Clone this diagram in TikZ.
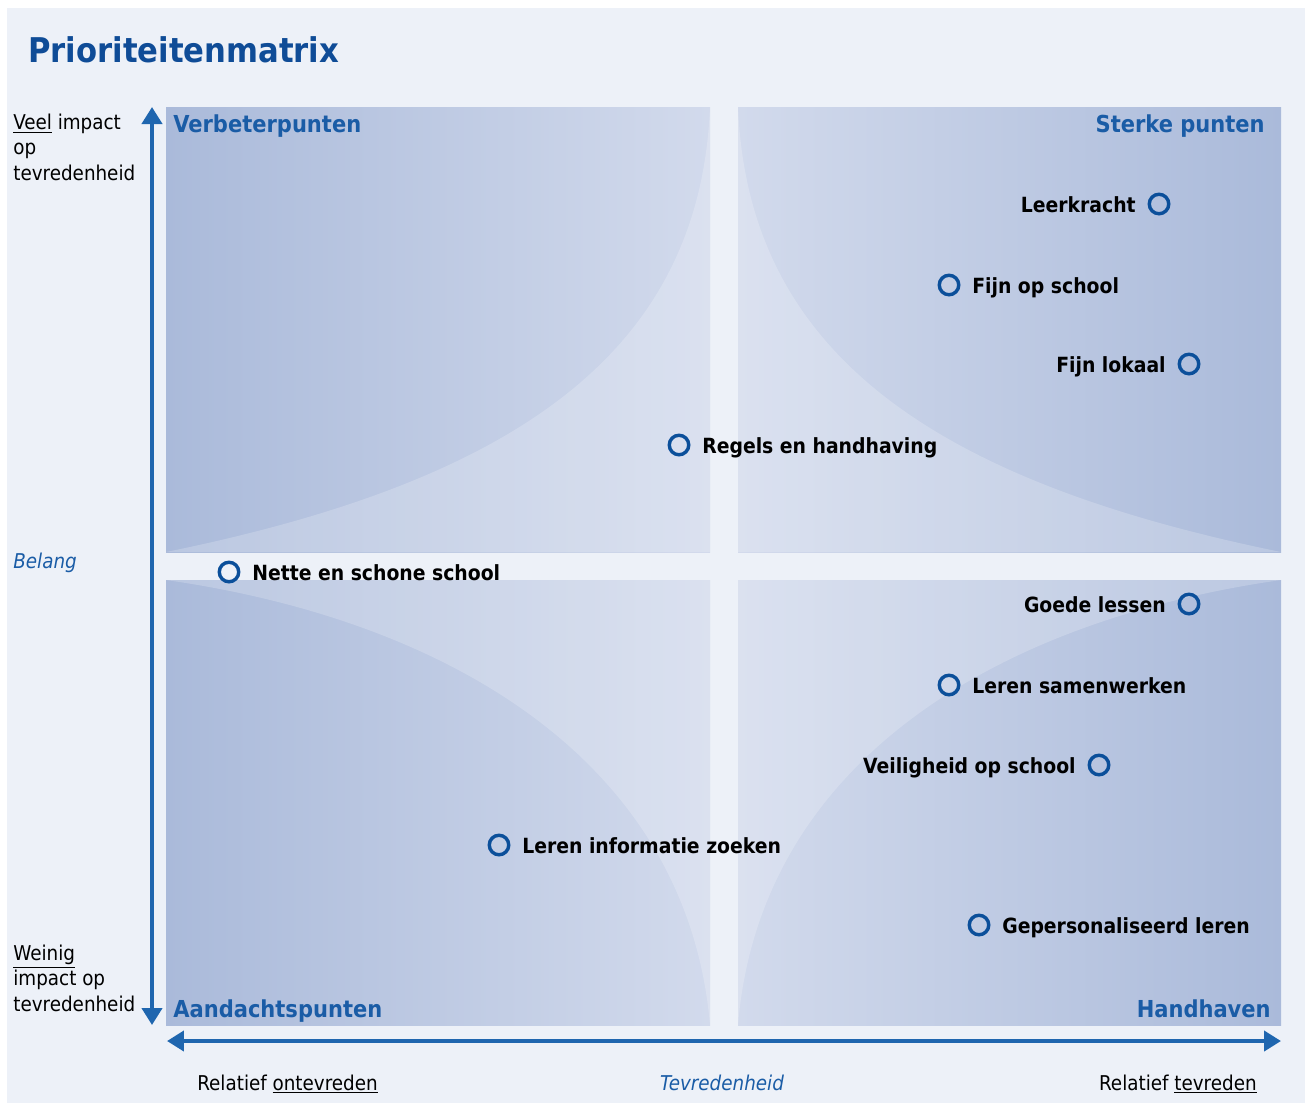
\documentclass[tikz,border=0pt]{standalone}
\usepackage{fontspec}
\IfFontExistsTF{DejaVu Sans Condensed}{\setmainfont{DejaVu Sans Condensed}}{\setmainfont{DejaVu Sans}}
\usepackage{tikz}
\usetikzlibrary{arrows.meta,positioning}
\usepackage{xcolor}

\definecolor{pagebg}{HTML}{EDF1F8}
\definecolor{quaddark}{HTML}{AABADA}
\definecolor{quadmid}{HTML}{D2DAEC}
\definecolor{titleblue}{HTML}{0F4C97}
\definecolor{headblue}{HTML}{1A5CA6}
\definecolor{axisblue}{HTML}{1F66AF}
\definecolor{ringblue}{HTML}{0B4F9A}

\begin{document}
\begin{tikzpicture}[x=0.02cm, y=-0.02cm,
    ring/.style={circle, draw=ringblue, line width=1.95pt, minimum size=0.39cm, inner sep=0pt},
    item/.style={inner sep=0pt, text height=0.73em, text depth=0pt, yshift=-0.05cm, font=\fontsize{11.9}{14}\selectfont\bfseries},
    head/.style={inner sep=0pt, text=headblue, font=\fontsize{13.3}{16}\selectfont\bfseries},
    axtext/.style={inner sep=0pt, align=left, font=\fontsize{11.6}{14.3}\selectfont},
    axname/.style={inner sep=0pt, text=headblue, font=\fontsize{11.6}{14}\selectfont\itshape},
    axis/.style={draw=axisblue, line width=2.3pt, {Triangle[length=0.34cm,width=0.4cm]}-{Triangle[length=0.34cm,width=0.4cm]}},
    sheen/.style={fill=white, fill opacity=0.2},
    node distance=0.23cm]
        \useasboundingbox (0,0) rectangle (1308,1103);

        % Background
        \fill[white] (0,0) rectangle (1308,1103);
        \fill[pagebg] (7,8) rectangle (1305,1103);

        % Quadrants (dark on the outer side)
        \shade[left color=quaddark, middle color=quaddark!70!quadmid, right color=quadmid] (166,107) rectangle (710,552);
        \shade[left color=quadmid, middle color=quaddark!70!quadmid, right color=quaddark] (738,107) rectangle (1281,552);
        \shade[left color=quaddark, middle color=quaddark!70!quadmid, right color=quadmid] (166,580) rectangle (710,1025);
        \shade[left color=quadmid, middle color=quaddark!70!quadmid, right color=quaddark] (738,580) rectangle (1281,1025);

        % Light curved areas towards the centre
        \fill[sheen] (166,552) .. controls (520,480) and (700,350) .. (710,107) -- (710,552) -- cycle;
        \fill[sheen] (1281,552) .. controls (928,480) and (748,350) .. (738,107) -- (738,552) -- cycle;
        \fill[sheen] (710,1025) .. controls (687,760) and (447,620) .. (166,580) -- (710,580) -- cycle;
        \fill[sheen] (738,1025) .. controls (760,760) and (1000,620) .. (1281,580) -- (738,580) -- cycle;

        % Title
        \node[anchor=base west, inner sep=0pt, text=titleblue, font=\fontsize{19.4}{23}\selectfont\bfseries] (title) at (28,62) {Prioriteitenmatrix};

        % Quadrant names
        \node[head, anchor=base west] (verbeter) at (173,132) {Verbeterpunten};
        \node[head, anchor=base east] (sterk) at (1265,132) {Sterke punten};
        \node[head, anchor=base west] (aandacht) at (173,1017) {Aandachtspunten};
        \node[head, anchor=base east] (handhaven) at (1271,1017) {Handhaven};

        % Axes
        \coordinate (ytop) at (152,107);
        \coordinate (ybot) at (152,1025);
        \coordinate (xleft) at (167,1041);
        \coordinate (xright) at (1281,1041);
        \draw[axis] (ybot) -- (ytop);
        \draw[axis] (xleft) -- (xright);

        % Axis labels
        \node[axtext, anchor=north west] (veel) at (13,114) {\underline{Veel} impact\\op\\tevredenheid};
        \node[axtext, anchor=north west] (weinig) at (13,945) {\underline{Weinig}\\impact op\\tevredenheid};
        \node[axname, anchor=west] (belang) at (13,563) {Belang};
        \node[axtext, anchor=base west] (ontevreden) at (197,1090) {Relatief \underline{ontevreden}};
        \node[axname, anchor=base] (tevredenheid) at (722,1090) {Tevredenheid};
        \node[axtext, anchor=base east] (tevreden) at (1257,1090) {Relatief \underline{tevreden}};

        % Data points
        \node[ring] (leerkracht) at (1159,204) {};
        \node[item, left=of leerkracht] (leerkracht-lbl) {Leerkracht};
        \node[ring] (fijnschool) at (949,285) {};
        \node[item, right=of fijnschool] (fijnschool-lbl) {Fijn op school};
        \node[ring] (fijnlokaal) at (1189,364) {};
        \node[item, left=of fijnlokaal] (fijnlokaal-lbl) {Fijn lokaal};
        \node[ring] (regels) at (679,445) {};
        \node[item, right=of regels] (regels-lbl) {Regels en handhaving};
        \node[ring] (nette) at (229,572) {};
        \node[item, right=of nette] (nette-lbl) {Nette en schone school};
        \node[ring] (goede) at (1189,604) {};
        \node[item, left=of goede] (goede-lbl) {Goede lessen};
        \node[ring] (samenwerken) at (949,685) {};
        \node[item, right=of samenwerken] (samenwerken-lbl) {Leren samenwerken};
        \node[ring] (veiligheid) at (1099,765) {};
        \node[item, left=of veiligheid] (veiligheid-lbl) {Veiligheid op school};
        \node[ring] (informatie) at (499,845) {};
        \node[item, right=of informatie] (informatie-lbl) {Leren informatie zoeken};
        \node[ring] (gepersonaliseerd) at (979,925) {};
        \node[item, right=of gepersonaliseerd] (gepersonaliseerd-lbl) {Gepersonaliseerd leren};
    \end{tikzpicture}
\end{document}
